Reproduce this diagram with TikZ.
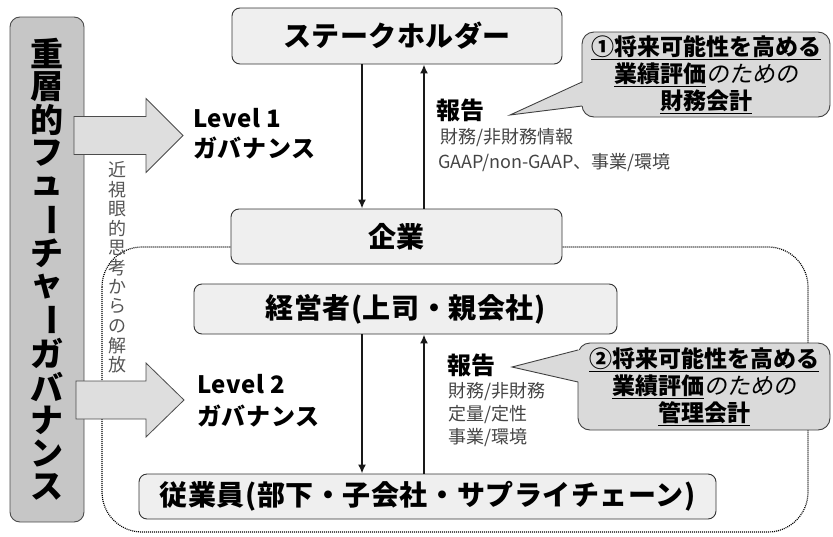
\documentclass[tikz,border=0pt]{standalone}
\usepackage{fontspec}
\setmainfont{Noto Sans CJK JP}
\newfontfamily\slfont[FakeSlant=0.18]{Noto Sans CJK JP}
\usetikzlibrary{arrows.meta}
\definecolor{boxfill}{HTML}{EFEFEF}
\definecolor{boxline}{HTML}{333333}
\definecolor{leftfill}{HTML}{C6C6C6}
\definecolor{arrfill}{HTML}{DEDEDE}
\definecolor{callfill}{HTML}{DADADA}
\definecolor{subgray}{HTML}{444444}
\definecolor{vgray}{HTML}{555555}
\tikzset{
  entity/.style={draw=boxline, fill=boxfill, line width=0.9pt, rounded corners=8pt, inner sep=0pt, font=\bfseries\fontsize{28}{32}\selectfont\addfontfeature{LetterSpace=2}},
  flow/.style={line width=2.4pt, draw=black!90, -{Latex[length=9pt,width=8pt]}},
  bigarrow/.style={draw=black!70, fill=arrfill, line width=0.8pt},
  vchar/.style={font=\bfseries\fontsize{33}{33}\selectfont, inner sep=0pt},
  gchar/.style={font=\fontsize{18}{18}\selectfont, text=vgray, inner sep=0pt},
  lvl/.style={anchor=west, font=\bfseries\fontsize{24}{26}\selectfont\addfontfeature{LetterSpace=3}, inner sep=0pt},
  hou/.style={anchor=west, font=\bfseries\fontsize{24}{26}\selectfont, inner sep=0pt},
  subtxt/.style={anchor=west, font=\fontsize{18}{20}\selectfont, text=subgray, inner sep=0pt},
  calltxt/.style={align=center, font=\fontsize{23}{27}\selectfont, inner sep=0pt},
  callbox/.style={draw=black!75, fill=callfill, line width=0.9pt, rounded corners=12pt},
  region/.style={draw=black, dash pattern=on 1pt off 1pt, line width=1.2pt, rounded corners=40pt}
}
\newcommand{\ul}[1]{\underline{\textbf{#1}}}
\begin{document}
\begin{tikzpicture}[x=1pt,y=-1pt]
\useasboundingbox (0,0) rectangle (833,536);

% dotted region
\draw[region] (102,247) rectangle (808,532);

% left tall box
\node[draw=black!70, fill=leftfill, line width=0.9pt, rounded corners=10pt, minimum width=74pt, minimum height=505pt, inner sep=0pt] (left) at (47,269.5) {};
\foreach \c [count=\i from 0] in {重,層,的,フ,ュ,ー,チ,ャ,ー,ガ,バ,ナ,ン,ス}{
  \ifnum\i=5 \node[vchar, rotate=-90] (v\i) at (47,{53+\i*33.4}) {\c};
  \else\ifnum\i=8 \node[vchar, rotate=-90] (v\i) at (47,{53+\i*33.4}) {\c};
  \else \node[vchar] (v\i) at (47,{53+\i*33.4}) {\c};
  \fi\fi
}

% gray vertical text
\foreach \c [count=\i from 0] in {近,視,眼,的,思,考,か,ら,の,解,放}{
  \node[gchar] (g\i) at (117,{170+\i*19.5}) {\c};
}

% big block arrows
\draw[bigarrow] (74,116.5) -- (146,116.5) -- (146,98.5) -- (183,135.5) -- (146,172.5) -- (146,154.5) -- (74,154.5) -- cycle;
\draw[bigarrow] (76,381) -- (146,381) -- (146,363) -- (184,400) -- (146,437) -- (146,419) -- (76,419) -- cycle;

% entity boxes
\node[entity, minimum width=330pt, minimum height=56pt] (sh) at (397,36) {ステークホルダー};
\node[entity, minimum width=331pt, minimum height=55pt] (kg) at (396.5,236.5) {企業};
\node[entity, minimum width=423pt, minimum height=50pt] (ke) at (405.5,309) {経営者(上司・親会社)};
\node[entity, minimum width=577pt, minimum height=45pt] (ju) at (427.5,496.5) {従業員(部下・子会社・サプライチェーン)};

% flow arrows
\coordinate (xd) at (362,0);
\coordinate (xu) at (424,0);
\draw[flow] (sh.south -| xd) -- (kg.north -| xd);
\draw[flow] (kg.north -| xu) -- (sh.south -| xu);
\draw[flow] (ke.south -| xd) -- (ju.north -| xd);
\draw[flow] (ju.north -| xu) -- (ke.south -| xu);

% level labels
\node[lvl] (l1a) at (193,118) {Level 1};
\node[lvl] (l1b) at (193,148) {ガバナンス};
\node[lvl] (l2a) at (197,384) {Level 2};
\node[lvl] (l2b) at (197,416) {ガバナンス};

% report labels
\node[hou] (h1) at (436,110) {報告};
\node[subtxt] (s1a) at (440,138) {財務/非財務情報};
\node[subtxt] (s1b) at (438,163) {GAAP/non-GAAP、事業/環境};
\node[hou] (h2) at (447,365) {報告};
\node[subtxt] (s2a) at (448,392) {財務/非財務};
\node[subtxt] (s2b) at (448,415) {定量/定性};
\node[subtxt] (s2c) at (448,438) {事業/環境};

% callout 1
\draw[callbox] (582,32) rectangle (830,117);
\fill[callfill] (584,82) -- (510,115) -- (584,106) -- cycle;
\draw[black!75, line width=0.9pt] (582,82) -- (510,115) -- (582,106);
\node[calltxt] (c1) at (706,75) {\ul{①将来可能性を高める}\\\ul{業績評価}{\slfont のための}\\\ul{財務会計}};

% callout 2
\draw[callbox] (578,343) rectangle (830,430);
\fill[callfill] (580,350) -- (512,367) -- (580,382) -- cycle;
\draw[black!75, line width=0.9pt] (578,350) -- (512,367) -- (578,382);
\node[calltxt] (c2) at (704,387) {\ul{②将来可能性を高める}\\\ul{業績評価}{\slfont のための}\\\ul{管理会計}};
\end{tikzpicture}
\end{document}
